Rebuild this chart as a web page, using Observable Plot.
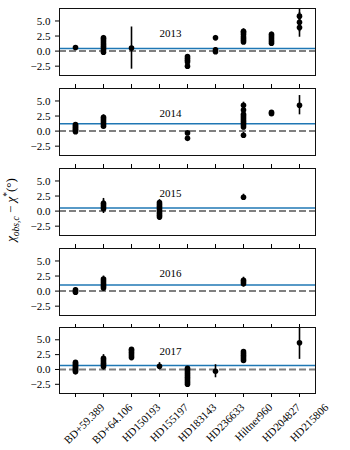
<!DOCTYPE html>
<html><head><meta charset="utf-8">
<script src="https://cdn.jsdelivr.net/npm/d3@7"></script>
<script src="https://cdn.jsdelivr.net/npm/@observablehq/plot@0.6"></script>
<style>
body{margin:0;background:#fff;}
#chart{position:relative;width:350px;height:450px;font-family:"Liberation Serif",serif;overflow:hidden;}
.panel{position:absolute;left:0;}
svg.panel, svg.panel text{font-family:"Liberation Serif",serif !important;font-size:11px;}
#ylabel{position:absolute;left:12px;top:210px;transform:translate(-50%,-50%) rotate(-90deg);font-size:13px;white-space:nowrap;line-height:1;}
#ylabel sub,#ylabel sup{font-size:9.5px;}
</style></head>
<body>
<div id="chart"><div id="ylabel"><i>χ</i><sub><i>obs,c</i></sub> − <i>χ</i><sup>*</sup>(°)</div></div>
<script>
const categories = ["BD+59.389","BD+64.106","HD150193","HD155197","HD183143","HD236633","Hiltner960","HD204827","HD215806"];
const years = [2013, 2014, 2015, 2016, 2017];
const meanOffset = [0.45, 1.23, 0.5, 1.0, 0.67];
const yTicks = [-2.5, 0, 2.5, 5];
const yDomain = [-4.05, 7.07];
const yearLabelStar = "HD155197";
const yearLabelY = 3.0;

// [star, observed offsets, error]
const obs2013 = [
  ["BD+59.389", [0.6], 0.2],
  ["BD+64.106", [-0.2, 0.2, 0.5, 0.8, 1.1, 1.4, 1.7, 2.0, 2.2], 0.4],
  ["HD150193", [0.5], 3.5],
  ["HD183143", [-0.9, -1.2, -1.5, -1.8, -2.5], 0.3],
  ["HD236633", [2.2, 0.2, -0.1], 0.4],
  ["Hiltner960", [1.5, 1.8, 2.1, 2.4, 2.8, 3.1, 3.3], 0.4],
  ["HD204827", [1.3, 1.6, 1.9, 2.2, 2.5, 2.8], 0.35],
  ["HD215806", [3.9, 4.8, 5.8], 1.6]
];
const obs2014 = [
  ["BD+59.389", [-0.1, 0.1, 0.3, 0.5, 0.7, 0.9, 1.1], 0.3],
  ["BD+64.106", [0.8, 1.1, 1.4, 1.7, 2.0, 2.3], 0.4],
  ["HD183143", [-0.3, -1.2], 0.3],
  ["Hiltner960", [-0.7, 0.7, 1.0, 1.3, 1.6, 1.9, 2.2, 2.5, 2.8, 3.5, 4.3], 0.5],
  ["HD204827", [2.9, 3.1], 0.3],
  ["HD215806", [4.3], 1.6]
];
const obs2015 = [
  ["BD+64.106", [0.4, 0.7, 1.0, 1.3], 0.8],
  ["HD155197", [-1.0, -0.7, -0.4, -0.1, 0.2, 0.5, 0.8, 1.1, 1.4], 0.5],
  ["Hiltner960", [2.3], 0.5]
];
const obs2016 = [
  ["BD+59.389", [-0.2, 0.0, 0.2], 0.3],
  ["BD+64.106", [0.5, 0.8, 1.1, 1.4, 1.7, 2.0], 0.5],
  ["Hiltner960", [1.2, 1.5, 1.8], 0.5]
];
const obs2017 = [
  ["BD+59.389", [-0.4, -0.2, 0.0, 0.2, 0.4, 0.6, 0.8, 1.0, 1.2], 0.3],
  ["BD+64.106", [0.5, 0.8, 1.0, 1.3, 1.6, 1.9], 0.6],
  ["HD150193", [2.0, 2.3, 2.6, 2.9, 3.2, 3.4], 0.25],
  ["HD155197", [0.55], 0.6],
  ["HD183143", [0.2, -0.1, -0.4, -0.7, -1.0, -1.3, -1.6, -1.9, -2.2, -2.5], 0.3],
  ["HD236633", [-0.3], 1.1],
  ["Hiltner960", [1.5, 1.8, 2.1, 2.4, 2.7, 3.0], 0.35],
  ["HD215806", [4.5], 2.8]
];
const obsByYear = [obs2013, obs2014, obs2015, obs2016, obs2017];

const chart = document.getElementById("chart");
years.forEach((year, i) => {
  const last = i === years.length - 1;
  const rows = obsByYear[i].flatMap(([star, vals, err]) => vals.map(v => ({star, v, err})));
  const marks = [
    Plot.ruleY([0], {stroke: "gray", strokeWidth: 2, strokeDasharray: "7,3"}),
    Plot.ruleY([meanOffset[i]], {stroke: "#1f77b4", strokeWidth: 1.5}),
    Plot.ruleX(rows, {x: "star", y1: d => d.v - d.err, y2: d => d.v + d.err, stroke: "black", strokeWidth: 1.6, clip: true}),
    Plot.dot(rows, {x: "star", y: "v", r: 2.8, fill: "black", stroke: "none"}),
    Plot.text([year], {x: () => yearLabelStar, y: () => yearLabelY, text: d => String(d), textAnchor: "start", lineAnchor: "middle", fill: "black"}),
    Plot.frame({stroke: "#111", strokeWidth: 1}),
    Plot.axisY(yTicks, {tickSize: 4, tickPadding: 5, tickFormat: d3.format(".1f")}),
    Plot.axisX(categories, {tickSize: 4, tickFormat: () => "", dy: last ? 0 : 9})
  ];
  if (last) {
    marks.push(Plot.text(categories, {x: d => d, frameAnchor: "bottom", text: d => d, rotate: -45, textAnchor: "end", lineAnchor: "top", dx: 24, dy: 9, fill: "black"}));
  }
  const svg = Plot.plot({
    width: 350,
    height: last ? 130 : 88,
    marginLeft: 59, marginRight: 35,
    marginTop: last ? 7 : 8,
    marginBottom: last ? 57 : 13,
    style: {background: "none", overflow: "visible", color: "black"},
    x: {type: "point", domain: categories, padding: 0.5, label: null},
    y: {domain: yDomain, label: null},
    marks
  });
  svg.classList.add("panel");
  svg.style.top = (80 * i) + "px";
  chart.appendChild(svg);
});
</script>
</body></html>
